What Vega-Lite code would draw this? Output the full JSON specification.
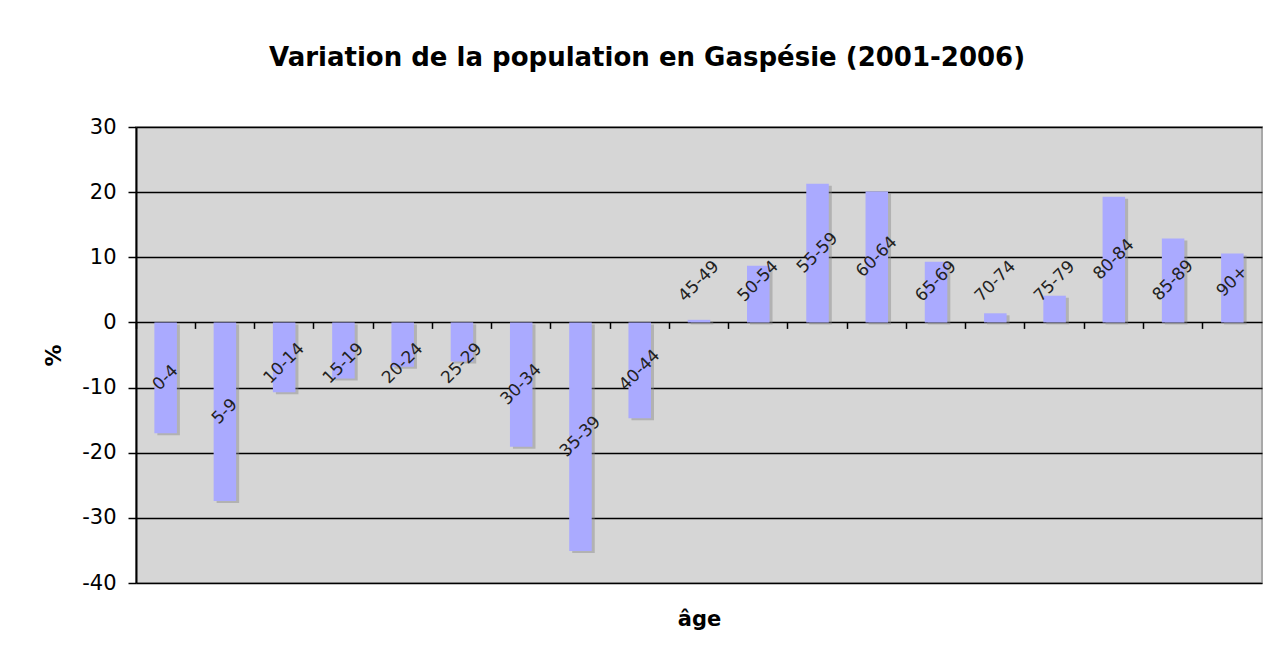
{
  "$schema": "https://vega.github.io/schema/vega-lite/v6.json",
  "width": 1126,
  "height": 456,
  "autosize": {"type": "none"},
  "padding": {"left": 136, "top": 127, "right": 13, "bottom": 75},
  "background": "white",
  "title": {
    "text": "Variation de la population en Gaspésie (2001-2006)",
    "font": "DejaVu Sans",
    "fontSize": 26,
    "fontWeight": "bold",
    "color": "#000",
    "anchor": "middle",
    "frame": "group",
    "dx": -52,
    "offset": 45
  },
  "config": {
    "view": {"fill": "#d6d6d6", "stroke": "#a8a8a8", "strokeWidth": 2},
    "font": "DejaVu Sans"
  },
  "data": {
    "values": [
      {"age": "0-4", "v": -17.0},
      {"age": "5-9", "v": -27.4},
      {"age": "10-14", "v": -10.7},
      {"age": "15-19", "v": -8.6},
      {"age": "20-24", "v": -6.8},
      {"age": "25-29", "v": -6.0},
      {"age": "30-34", "v": -19.1},
      {"age": "35-39", "v": -35.1},
      {"age": "40-44", "v": -14.7},
      {"age": "45-49", "v": 0.4},
      {"age": "50-54", "v": 8.7},
      {"age": "55-59", "v": 21.3},
      {"age": "60-64", "v": 20.1},
      {"age": "65-69", "v": 9.3},
      {"age": "70-74", "v": 1.4},
      {"age": "75-79", "v": 4.1},
      {"age": "80-84", "v": 19.3},
      {"age": "85-89", "v": 12.9},
      {"age": "90+", "v": 10.6}
    ]
  },
  "encoding": {
    "x": {
      "field": "age",
      "type": "nominal",
      "sort": null,
      "scale": {"paddingInner": 0, "paddingOuter": 0},
      "axis": {
        "orient": "bottom",
        "offset": -260.6,
        "bandPosition": 0,
        "domain": false,
        "labels": false,
        "ticks": true,
        "tickColor": "#000",
        "tickSize": 6,
        "tickWidth": 1.5,
        "grid": false,
        "title": "âge",
        "titleFont": "DejaVu Sans",
        "titleFontSize": 21,
        "titleFontWeight": "bold",
        "titleColor": "#000",
        "titlePadding": 279
      }
    }
  },
  "layer": [
    {
      "mark": {"type": "bar", "color": "#888", "opacity": 0.45, "xOffset": 3, "yOffset": 2, "width": {"band": 0.38}},
      "encoding": {
        "y": {
          "field": "v",
          "type": "quantitative",
          "scale": {"domain": [-40, 30], "nice": false, "zero": true},
          "axis": {
            "values": [-40, -30, -20, -10, 0, 10, 20, 30],
            "labelExpr": "toString(datum.value)",
            "title": "%",
            "titleFont": "DejaVu Sans",
            "titleFontSize": 22,
            "titleFontWeight": "bold",
            "titleColor": "#000",
            "titlePadding": 16,
            "labelFont": "DejaVu Sans",
            "labelFontSize": 21,
            "labelColor": "#000",
            "labelPadding": 12,
            "domainColor": "#000",
            "domainWidth": 2,
            "tickColor": "#000",
            "tickSize": 8,
            "tickWidth": 1.5,
            "gridColor": "#000",
            "gridWidth": 1.5,
            "gridOpacity": 1
          }
        }
      }
    },
    {
      "mark": {"type": "bar", "color": "#aaaaff", "width": {"band": 0.38}},
      "encoding": {
        "y": {"field": "v", "type": "quantitative"}
      }
    },
    {
      "transform": [
        {"calculate": "datum.v >= 0 ? max(datum.v / 2, 6.3) : min(datum.v / 2, -6.3)", "as": "labelPos"}
      ],
      "mark": {"type": "text", "angle": -45, "align": "center", "baseline": "middle", "font": "DejaVu Sans", "fontSize": 17, "color": "#222"},
      "encoding": {
        "y": {"field": "labelPos", "type": "quantitative"},
        "text": {"field": "age"}
      }
    }
  ]
}
